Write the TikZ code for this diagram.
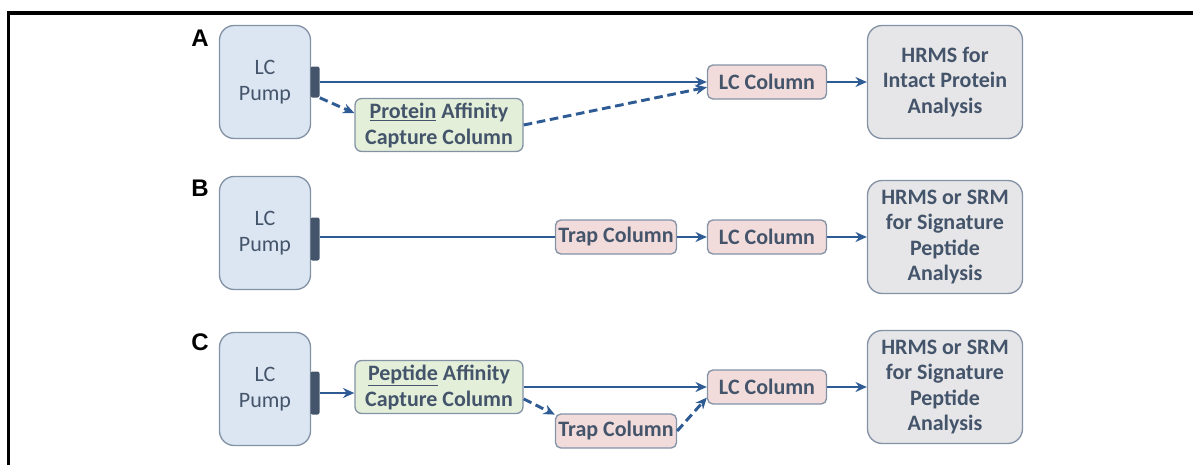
\documentclass[tikz,border=0pt]{standalone}
\usepackage{fontspec}
\setmainfont{Carlito}
\newfontfamily\panelfont{Liberation Sans}
\usetikzlibrary{arrows.meta}

\definecolor{txtcol}{HTML}{44546A}
\definecolor{linecol}{HTML}{2E5B94}
\definecolor{edgecol}{HTML}{8492A6}
\definecolor{pumpfill}{HTML}{DCE6F2}
\definecolor{greenfill}{HTML}{E3EFD9}
\definecolor{pinkfill}{HTML}{F2DCDB}
\definecolor{grayfill}{HTML}{E6E6E8}

\tikzset{
  box/.style={draw=edgecol, line width=1pt, text=txtcol, align=center, inner sep=1pt,
    font=\fontsize{16.5}{19.5}\selectfont\bfseries},
  pump/.style={box, fill=pumpfill, rounded corners=11pt, minimum width=68.25pt,
    minimum height=84.75pt, font=\fontsize{16.5}{19.5}\selectfont},
  tab/.style={fill=txtcol, rounded corners=1.5pt, minimum width=6.75pt, inner sep=0pt},
  capture/.style={box, fill=greenfill, rounded corners=5pt, minimum width=126pt, minimum height=39.75pt},
  column/.style={box, fill=pinkfill, rounded corners=4pt, minimum height=25.5pt},
  ms/.style={box, fill=grayfill, rounded corners=11pt, minimum width=116.25pt,
    minimum height=84.75pt, font=\fontsize{16.5}{19.2}\selectfont\bfseries},
  panel/.style={font=\panelfont\fontsize{18}{20}\selectfont\bfseries},
  flow/.style={draw=linecol, line width=2.2pt, -{Stealth[length=8.5pt,width=7.5pt]}},
  plain/.style={draw=linecol, line width=2.2pt},
  bypass/.style={flow, dash pattern=on 6.5pt off 3.5pt},
}

\begin{document}
\begin{tikzpicture}[x=0.75pt, y=-0.75pt]
    \useasboundingbox (0,0) rectangle (1193,465);
    \draw[line width=2.3pt] (8.5,465) -- (8.5,13) -- (1193,13);

    % A: intact protein
    \node[panel] (labA) at (200,38) {A};
    \node[pump] (pumpA) at (265,82) {LC\\Pump};
    \node[tab, minimum height=23.25pt] (tabA) at (315,82) {};
    \node[capture] (protA) at (439,125) {\underline{Protein} Affinity\\Capture Column};
    \node[column, minimum width=89.25pt] (lcA) at (767,82) {LC Column};
    \node[ms] (hrmsA) at (945,82) {HRMS for\\Intact Protein\\Analysis};

    \draw[flow] (tabA) -- (lcA);
    \draw[bypass] (tabA.south east) -- (protA.172);
    \draw[bypass] (protA.east) -- (lcA.185);
    \draw[flow] (lcA) -- (hrmsA);

    % B: signature peptide
    \node[panel] (labB) at (200,188) {B};
    \node[pump] (pumpB) at (265,233) {LC\\Pump};
    \node[tab, minimum height=32.25pt] (tabB) at (315,239) {};
    \node[column, minimum width=90.75pt] (trapB) at (616,237) {Trap Column};
    \node[column, minimum width=89.25pt] (lcB) at (767,237) {LC Column};
    \node[ms] (hrmsB) at (945,237) {HRMS or SRM\\for Signature\\Peptide\\Analysis};

    \draw[plain] (tabB.east |- trapB) -- (trapB);
    \draw[flow] (trapB) -- (lcB);
    \draw[flow] (lcB) -- (hrmsB);

    % C: peptide capture
    \node[panel] (labC) at (200,342) {C};
    \node[pump] (pumpC) at (265,389) {LC\\Pump};
    \node[tab, minimum height=32.25pt] (tabC) at (315,393) {};
    \node[capture] (pepC) at (439,387) {\underline{Peptide} Affinity\\Capture Column};
    \node[column, minimum width=89.25pt] (lcC) at (767,387) {LC Column};
    \node[column, minimum width=90.75pt] (trapC) at (616,431) {Trap Column};
    \node[ms] (hrmsC) at (945,387) {HRMS or SRM\\for Signature\\Peptide\\Analysis};

    \draw[flow] (tabC.east) -- (tabC.east -| pepC.west);
    \draw[flow] (pepC) -- (lcC);
    \draw[bypass] (pepC.352) -- (trapC.165);
    \draw[bypass] (trapC.east) -- (lcC.190);
    \draw[flow] (lcC) -- (hrmsC);
\end{tikzpicture}
\end{document}
